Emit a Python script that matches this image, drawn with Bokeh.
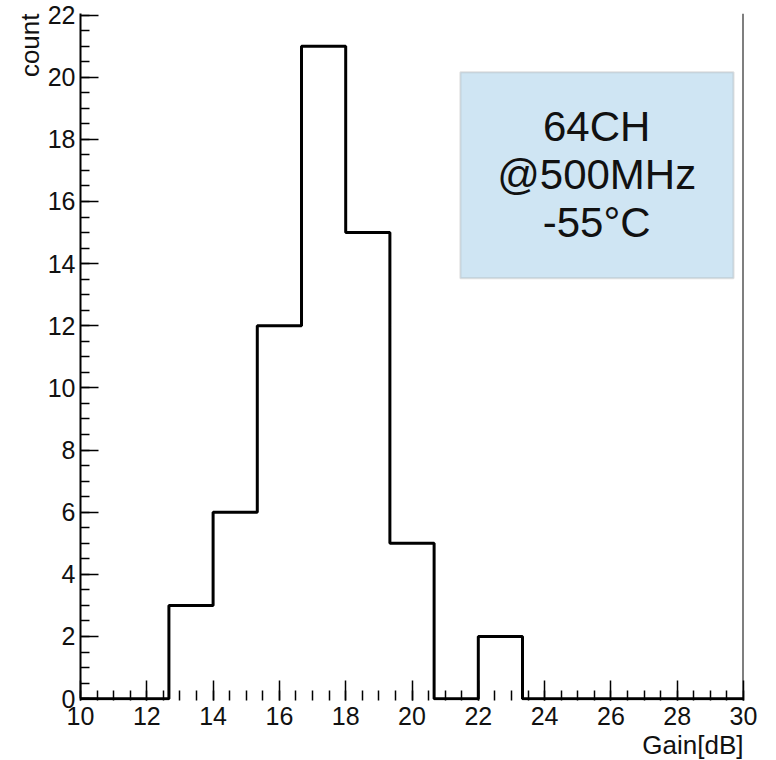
from bokeh.embed import file_html
from bokeh.models import BoxAnnotation, FixedTicker, Label, Range1d, Span, Title
from bokeh.plotting import figure
from bokeh.resources import INLINE

# Histogram of channel gain: 15 equal bins between 10 and 30 dB
bin_edges = [10.0, 11.333, 12.667, 14.0, 15.333, 16.667, 18.0, 19.333,
             20.667, 22.0, 23.333, 24.667, 26.0, 27.333, 28.667, 30.0]
counts = [0, 0, 3, 6, 12, 21, 15, 5, 0, 2, 0, 0, 0, 0, 0]

x_major = [10, 12, 14, 16, 18, 20, 22, 24, 26, 28, 30]
y_major = [0, 2, 4, 6, 8, 10, 12, 14, 16, 18, 20, 22]

info_lines = ["64CH", "@500MHz", "-55°C"]

FONT = "Liberation Sans"

p = figure(
    width=776, height=760,
    output_backend="svg", toolbar_location=None,
    x_range=Range1d(10, 30), y_range=Range1d(-0.06, 22.05),
    min_border_left=80, min_border_right=33,
    min_border_top=13, min_border_bottom=60,
)
p.background_fill_color = "white"
p.border_fill_color = "white"
p.outline_line_color = None
p.xgrid.visible = False
p.ygrid.visible = False

# x axis: ticks pointing into the frame, no axis line
xa = p.xaxis[0]
xa.ticker = FixedTicker(ticks=x_major,
                        minor_ticks=[10 + 0.5 * i for i in range(41)])
xa.axis_line_color = None
xa.major_tick_in = 20
xa.major_tick_out = 0
xa.minor_tick_in = 10
xa.minor_tick_out = 0
xa.major_tick_line_width = 1.5
xa.minor_tick_line_width = 1.5
xa.major_tick_line_color = "black"
xa.minor_tick_line_color = "black"
xa.major_label_standoff = 6
xa.major_label_text_font = FONT
xa.major_label_text_font_size = "25px"
xa.major_label_text_color = "#111111"

# y axis
ya = p.yaxis[0]
ya.ticker = FixedTicker(ticks=y_major,
                        minor_ticks=[0.5 * i for i in range(45)])
ya.bounds = (0, 22.05)
ya.axis_line_width = 2
ya.axis_line_color = "black"
ya.major_tick_in = 18
ya.major_tick_out = 0
ya.minor_tick_in = 9
ya.minor_tick_out = 0
ya.major_tick_line_width = 1.5
ya.minor_tick_line_width = 1.5
ya.major_tick_line_color = "black"
ya.minor_tick_line_color = "black"
ya.major_label_standoff = 5
ya.major_label_text_font = FONT
ya.major_label_text_font_size = "25px"
ya.major_label_text_color = "#111111"

# right edge of the frame
p.add_layout(Span(location=30, dimension="height",
                  line_color="black", line_width=2))

# histogram outline
p.step(x=bin_edges, y=counts + [counts[-1]], mode="after",
       line_color="black", line_width=3)

# axis titles, placed at the far ends of the axes
p.add_layout(Title(text="Gain[dB]", align="right", text_font=FONT,
                   text_font_size="26px", text_font_style="normal",
                   text_color="#111111", standoff=0, offset=0), "below")
p.add_layout(Title(text="count", align="right", text_font=FONT,
                   text_font_size="26px", text_font_style="normal",
                   text_color="#111111", standoff=0, offset=0), "left")

# info box
p.add_layout(BoxAnnotation(left=21.46, right=29.70, bottom=13.53, top=20.16,
                           fill_color="#cfe5f3", fill_alpha=1.0,
                           line_color="#9a9a9a", line_width=2,
                           level="annotation"))
for text, yc in zip(info_lines, [18.42, 16.88, 15.33]):
    p.add_layout(Label(x=25.57, y=yc, text=text, text_align="center",
                       text_baseline="middle", text_font=FONT,
                       text_font_size="42px", text_color="#111111"))

open("out.html", "w").write(file_html(p, INLINE))
